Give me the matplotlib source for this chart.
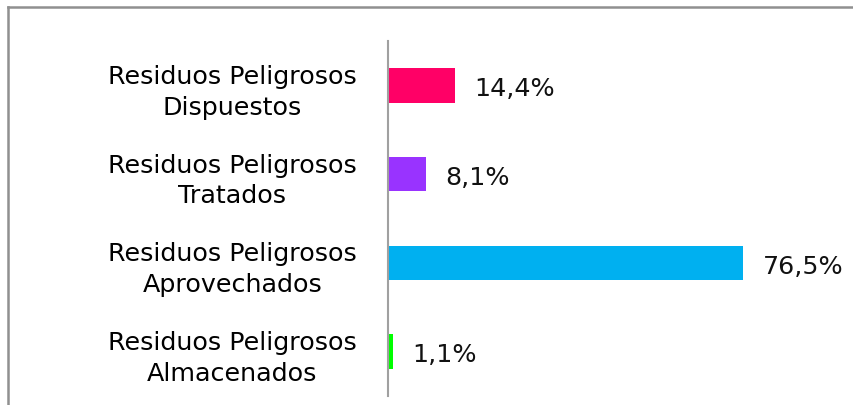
import matplotlib.pyplot as plt
from matplotlib.lines import Line2D

categorias = ['Residuos Peligrosos\nDispuestos', 'Residuos Peligrosos\nTratados',
              'Residuos Peligrosos\nAprovechados', 'Residuos Peligrosos\nAlmacenados']
valores = [14.4, 8.1, 76.5, 1.1]
etiquetas = ['14,4%', '8,1%', '76,5%', '1,1%']
colores = ['#FF0066', '#9933FF', '#00B0F0', '#00FF00']

fig = plt.figure(figsize=(8.54, 4.06), dpi=100)
ax = fig.add_axes([388/854, 1-397/406, 417.6/854, 355/406])

pos = list(range(len(categorias)))[::-1]
ax.barh(pos, valores, height=0.39, color=colores)
ax.set_xlim(0, 90)
ax.set_ylim(-0.5, 3.5)

for p, v, t in zip(pos, valores, etiquetas):
    ax.annotate(t, (v, p), xytext=(14, -2), textcoords='offset points',
                va='center', ha='left', fontsize=18.3, color='#111111')

ax.set_yticks(pos)
ax.set_yticklabels(categorias, fontsize=18.3, multialignment='center', ha='center',
                   linespacing=1.35)
ax.tick_params(axis='y', length=0, pad=112)
ax.set_xticks([])
for s in ['top', 'right', 'bottom']:
    ax.spines[s].set_visible(False)
ax.spines['left'].set_color('#A0A0A0')
ax.spines['left'].set_linewidth(1.5)

# marco gris del grafico
fig.add_artist(Line2D([8/854, 8/854], [0, 1-8/406], color='#909090', lw=1.8, transform=fig.transFigure))
fig.add_artist(Line2D([8/854, 1], [1-8/406, 1-8/406], color='#909090', lw=1.8, transform=fig.transFigure))

fig.savefig('out.png', dpi=100)
